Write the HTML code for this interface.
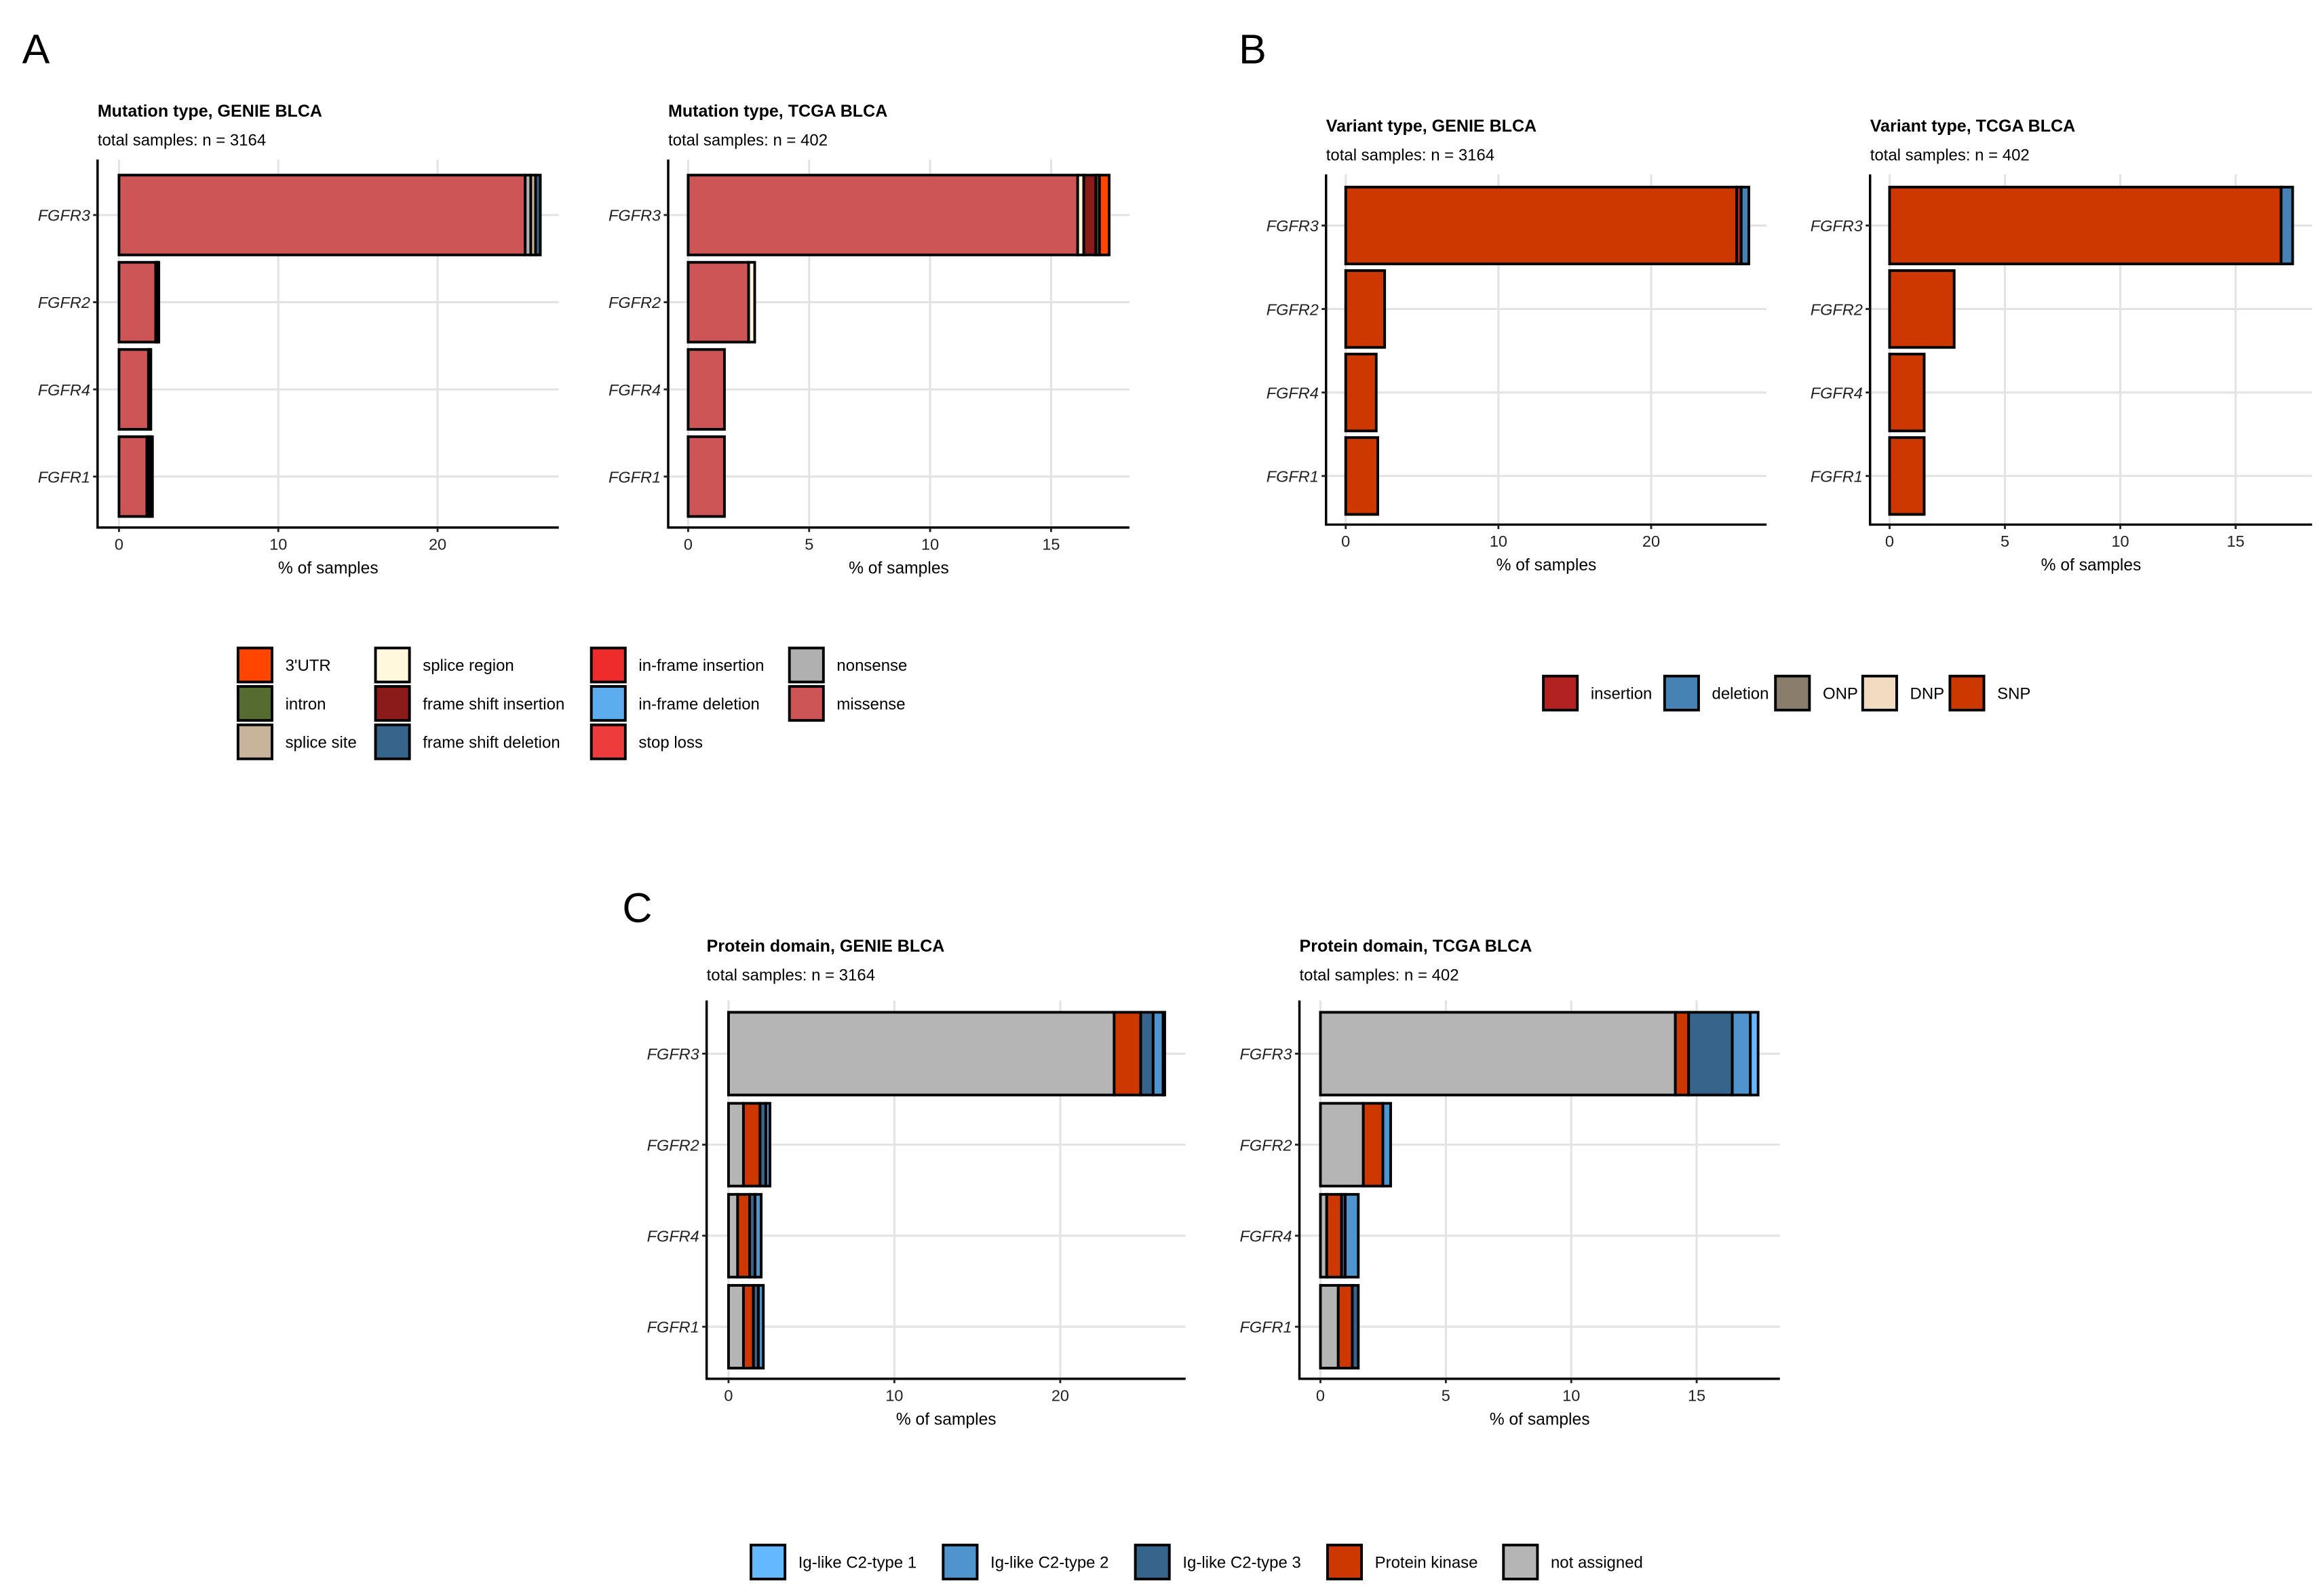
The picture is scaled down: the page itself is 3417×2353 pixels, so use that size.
<!DOCTYPE html>
<html><head><meta charset="utf-8"><style>
html,body{margin:0;padding:0;background:#fff;}
svg{display:block;font-family:"Liberation Sans",Arial,sans-serif;}
</style></head><body>
<svg id="fig" width="3417" height="2353" viewBox="0 0 1568 1080" preserveAspectRatio="none" xmlns="http://www.w3.org/2000/svg">
<rect width="1568" height="1080" fill="#fff"/>
<text x="15" y="43" font-size="28">A</text>
<text x="838" y="43" font-size="28">B</text>
<text x="421" y="624" font-size="28">C</text>
</svg>
<script>
const categories = ["FGFR3","FGFR2","FGFR4","FGFR1"];

// Panel A: mutation type
const mutColors = ["#CD5555","#B0B0B0","#C8B49B","#36648B","#8B1A1A","#FFF8DC","#556B2F","#FF4500"];
const aGenieMissense = [25.5, 2.3, 1.85, 1.75];
const aGenieNonsense = [0.35, 0.1, 0.1, 0.15];
const aGenieSpliceSite = [0.3, 0.05, 0.05, 0.1];
const aGenieFsDel = [0.3, 0.05, 0, 0.1];
const aTcgaMissense = [16.1, 2.5, 1.5, 1.5];
const aTcgaSpliceRegion = [0.25, 0.25, 0, 0];
const aTcgaFsIns = [0.5, 0, 0, 0];
const aTcgaIntron = [0.15, 0, 0, 0];
const aTcgaUtr = [0.4, 0, 0, 0];

// Panel B: variant type
const bGenieSNP = [25.6, 2.55, 2.0, 2.1];
const bGenieIns = [0.3, 0, 0, 0];
const bGenieDel = [0.5, 0, 0, 0];
const bTcgaSNP = [16.97, 2.8, 1.5, 1.5];
const bTcgaDel = [0.5, 0, 0, 0];

// Panel C: protein domain
const cGenieNA = [23.25, 0.9, 0.55, 0.9];
const cGeniePK = [1.6, 1.0, 0.72, 0.6];
const cGenieIg3 = [0.75, 0.35, 0.33, 0.3];
const cGenieIg2 = [0.6, 0.25, 0.37, 0.3];
const cGenieIg1 = [0.1, 0, 0, 0];
const cTcgaNA = [14.15, 1.71, 0.25, 0.71];
const cTcgaPK = [0.53, 0.78, 0.59, 0.56];
const cTcgaIg3 = [1.74, 0, 0.15, 0.24];
const cTcgaIg2 = [0.72, 0.31, 0.52, 0];
const cTcgaIg1 = [0.31, 0, 0, 0];

const xTicksGenie = [0, 10, 20];
const xTicksTcga = [0, 5, 10, 15];

const svg = document.getElementById('fig');
const NS = "http://www.w3.org/2000/svg";
function mk(tag, attrs, parent) {
  const e = document.createElementNS(NS, tag);
  for (const k in attrs) e.setAttribute(k, attrs[k]);
  (parent || svg).appendChild(e);
  return e;
}

function panel(cfg) {
  const g = mk('g', {});
  
  
  const xs = v => cfg.zeroX + v * (cfg.refX - cfg.zeroX) / cfg.refV;
  const yc = i => cfg.c0 + i * cfg.step;
  const t = mk('text', {x: cfg.axisX, y: cfg.titleY, 'font-size': 11.5, 'font-weight': 'bold', fill: '#000'}, g);
  t.textContent = cfg.title;
  
  
  const st = mk('text', {x: cfg.axisX, y: cfg.titleY + 19.5, 'font-size': 11, fill: '#000'}, g);
  st.textContent = cfg.subtitle;
  
  
  cfg.ticks.forEach(v => {
    const l = mk('line', {x1: xs(v), x2: xs(v), y1: cfg.top, y2: cfg.bottom, stroke: '#E3E3E3', 'stroke-width': 1.4}, g);
    
    
  });
  categories.forEach((c, i) => {
    const l = mk('line', {x1: cfg.axisX, x2: cfg.right, y1: yc(i), y2: yc(i), stroke: '#E3E3E3', 'stroke-width': 1.4}, g);
    
    
  });
  categories.forEach((c, i) => {
    let acc = 0;
    cfg.series.forEach(s => {
      const v = s.values[i];
      if (v > 0) {
        const r = mk('rect', {x: xs(acc), y: yc(i) - cfg.barH / 2, width: xs(acc + v) - xs(acc), height: cfg.barH, fill: s.color, stroke: '#000', 'stroke-width': 1.8}, g);
        
        
      }
      acc += v;
    });
  });
  const ya = mk('line', {x1: cfg.axisX, x2: cfg.axisX, y1: cfg.top, y2: cfg.bottom + 0.8, stroke: '#000', 'stroke-width': 1.6}, g);
  
  
  const xa = mk('line', {x1: cfg.axisX, x2: cfg.right, y1: cfg.bottom, y2: cfg.bottom, stroke: '#000', 'stroke-width': 1.6}, g);
  
  
  categories.forEach((c, i) => {
    mk('line', {x1: cfg.axisX - 3, x2: cfg.axisX, y1: yc(i), y2: yc(i), stroke: '#222', 'stroke-width': 1.3}, g);
    const tl = mk('text', {x: cfg.axisX - 5, y: yc(i) + 4, 'font-size': 10.8, 'font-style': 'italic', 'text-anchor': 'end', fill: '#222'}, g);
    tl.textContent = c;
    
    
  });
  cfg.ticks.forEach(v => {
    mk('line', {x1: xs(v), x2: xs(v), y1: cfg.bottom, y2: cfg.bottom + 3, stroke: '#222', 'stroke-width': 1.3}, g);
    const tl = mk('text', {x: xs(v), y: cfg.bottom + 15, 'font-size': 10.8, 'text-anchor': 'middle', fill: '#222'}, g);
    tl.textContent = v;
    
    
  });
  const xt = mk('text', {x: (cfg.axisX + cfg.right) / 2, y: cfg.bottom + 31, 'font-size': 11.3, 'text-anchor': 'middle', fill: '#000'}, g);
  xt.textContent = '% of samples';
  
  
}

function ser(key, color, values) { return {key, color, values}; }

panel({name: 'mutation-genie-chart', title: 'Mutation type, GENIE BLCA', subtitle: 'total samples: n = 3164',
  axisX: 66, right: 378, top: 108, bottom: 357, titleY: 79, zeroX: 80.5, refX: 296, refV: 20,
  c0: 145.5, step: 59, barH: 54, ticks: xTicksGenie,
  series: [ser('missense', mutColors[0], aGenieMissense), ser('nonsense', mutColors[1], aGenieNonsense),
           ser('splice-site', mutColors[2], aGenieSpliceSite), ser('fs-deletion', mutColors[3], aGenieFsDel)]});
panel({name: 'mutation-tcga-chart', title: 'Mutation type, TCGA BLCA', subtitle: 'total samples: n = 402',
  axisX: 452, right: 764, top: 108, bottom: 357, titleY: 79, zeroX: 465.5, refX: 711, refV: 15,
  c0: 145.5, step: 59, barH: 54, ticks: xTicksTcga,
  series: [ser('missense', mutColors[0], aTcgaMissense), ser('splice-region', mutColors[5], aTcgaSpliceRegion),
           ser('fs-insertion', mutColors[4], aTcgaFsIns), ser('intron', mutColors[6], aTcgaIntron), ser('3utr', mutColors[7], aTcgaUtr)]});
panel({name: 'variant-genie-chart', title: 'Variant type, GENIE BLCA', subtitle: 'total samples: n = 3164',
  axisX: 897, right: 1195, top: 118, bottom: 355, titleY: 89, zeroX: 910.3, refX: 1116.9, refV: 20,
  c0: 152.6, step: 56.5, barH: 52, ticks: xTicksGenie,
  series: [ser('snp', '#CD3700', bGenieSNP), ser('insertion', '#B22222', bGenieIns), ser('deletion', '#4682B4', bGenieDel)]});
panel({name: 'variant-tcga-chart', title: 'Variant type, TCGA BLCA', subtitle: 'total samples: n = 402',
  axisX: 1265, right: 1564, top: 118, bottom: 355, titleY: 89, zeroX: 1278.2, refX: 1512.3, refV: 15,
  c0: 152.6, step: 56.5, barH: 52, ticks: xTicksTcga,
  series: [ser('snp', '#CD3700', bTcgaSNP), ser('deletion', '#4682B4', bTcgaDel)]});
panel({name: 'domain-genie-chart', title: 'Protein domain, GENIE BLCA', subtitle: 'total samples: n = 3164',
  axisX: 478, right: 802, top: 677, bottom: 933, titleY: 644, zeroX: 492.8, refX: 717.2, refV: 20,
  c0: 713, step: 61.6, barH: 56, ticks: xTicksGenie,
  series: [ser('not-assigned', '#B5B5B5', cGenieNA), ser('protein-kinase', '#CD3700', cGeniePK),
           ser('ig3', '#36648B', cGenieIg3), ser('ig2', '#4F94CD', cGenieIg2), ser('ig1', '#63B8FF', cGenieIg1)]});
panel({name: 'domain-tcga-chart', title: 'Protein domain, TCGA BLCA', subtitle: 'total samples: n = 402',
  axisX: 879, right: 1204, top: 677, bottom: 933, titleY: 644, zeroX: 893.2, refX: 1147.7, refV: 15,
  c0: 713, step: 61.6, barH: 56, ticks: xTicksTcga,
  series: [ser('not-assigned', '#B5B5B5', cTcgaNA), ser('protein-kinase', '#CD3700', cTcgaPK),
           ser('ig3', '#36648B', cTcgaIg3), ser('ig2', '#4F94CD', cTcgaIg2), ser('ig1', '#63B8FF', cTcgaIg1)]});

function legendEntry(x, y, color, label, name) {
  const g = mk('g', {});
  
  
  mk('rect', {x: x, y: y - 11.5, width: 23, height: 23, fill: color, stroke: '#000', 'stroke-width': 1.8}, g);
  const t = mk('text', {x: x + 32, y: y + 4, 'font-size': 11, fill: '#000'}, g);
  t.textContent = label;
}
const legA = [
  [161, 450, "#FF4500", "3'UTR"], [161, 476, "#556B2F", "intron"], [161, 502, "#C8B49B", "splice site"],
  [254, 450, "#FFF8DC", "splice region"], [254, 476, "#8B1A1A", "frame shift insertion"], [254, 502, "#36648B", "frame shift deletion"],
  [400, 450, "#EE2C2C", "in-frame insertion"], [400, 476, "#5CACEE", "in-frame deletion"], [400, 502, "#EE3B3B", "stop loss"],
  [534, 450, "#B0B0B0", "nonsense"], [534, 476, "#CD5555", "missense"]];
legA.forEach(d => legendEntry(d[0], d[1], d[2], d[3], 'legend-entry-mutation'));
const legB = [[1044, "#B22222", "insertion"], [1126, "#4682B4", "deletion"], [1201, "#8B7D6B", "ONP"], [1260, "#F1DCC2", "DNP"], [1319, "#CD3700", "SNP"]];
legB.forEach(d => legendEntry(d[0], 469, d[1], d[2], 'legend-entry-variant'));
const legC = [[508, "#63B8FF", "Ig-like C2-type 1"], [638, "#4F94CD", "Ig-like C2-type 2"], [768, "#36648B", "Ig-like C2-type 3"], [898, "#CD3700", "Protein kinase"], [1017, "#B5B5B5", "not assigned"]];
legC.forEach(d => legendEntry(d[0], 1057, d[1], d[2], 'legend-entry-domain'));
</script>
</body></html>
